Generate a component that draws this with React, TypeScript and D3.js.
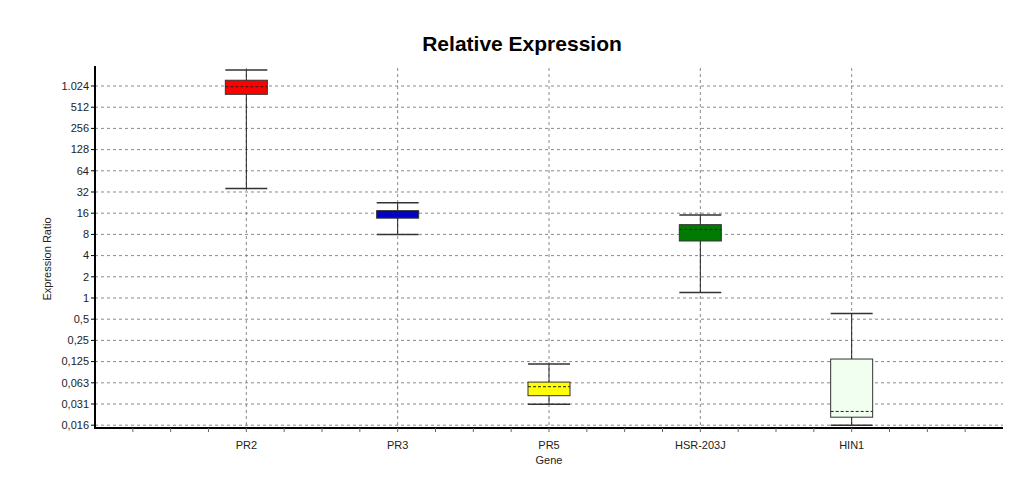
import React from "react";
import * as d3 from "d3";

const genes = ["PR2", "PR3", "PR5", "HSR-203J", "HIN1"];
const whiskerLow = [36, 8, 0.031, 1.2, 0.0156];
const boxLow = [780, 13.6, 0.041, 6.45, 0.0203];
const median = [1000, 16, 0.055, 9.4, 0.0245];
const boxHigh = [1236, 17.4, 0.064, 11, 0.136];
const whiskerHigh = [1728, 22.5, 0.116, 15.1, 0.6];
const boxColors = ["#ff0000", "#0000cc", "#ffff00", "#007a00", "#f0fff0"];

const tickValues = [1024, 512, 256, 128, 64, 32, 16, 8, 4, 2, 1, 0.5, 0.25, 0.125, 0.0625, 0.03125, 0.015625];
const tickLabels = ["1.024", "512", "256", "128", "64", "32", "16", "8", "4", "2", "1", "0,5", "0,25", "0,125", "0,063", "0,031", "0,016"];

const W = 1021;
const H = 484;
const left = 95;
const right = 1003;
const top = 66;
const bottom = 428;

export default function App() {
  const y = d3.scaleLog().base(2).domain([Math.pow(2, -6.132), Math.pow(2, 10.943)]).range([bottom, top]);
  const x = d3.scaleLinear().domain([0, genes.length + 1]).range([left, right]);
  const minorTicks = d3.range(1, (genes.length + 1) * 4).map((i) => i / 4);
  const font = "Arial, 'Liberation Sans', sans-serif";
  const bw = 42;

  return (
    <svg width={W} height={H} style={{ position: "absolute", left: 0, top: 0, background: "#fff" }} fontFamily={font}>
      <rect x={0} y={0} width={W} height={H} fill="#fff" />
      <text x={522} y={51} textAnchor="middle" fontSize={21} fontWeight="bold" fill="#000">
        Relative Expression
      </text>
      {/* horizontal grid */}
      {tickValues.map((v, i) => (
        <line key={"hg" + i} x1={left} x2={right} y1={y(v)} y2={y(v)} stroke="#8a8a8a" strokeWidth={1} strokeDasharray="3,3" />
      ))}
      {/* vertical grid */}
      {genes.map((g, i) => (
        <line key={"vg" + i} x1={x(i + 1)} x2={x(i + 1)} y1={top + 2} y2={bottom} stroke="#8a8a8a" strokeWidth={1} strokeDasharray="3,3" />
      ))}
      {/* boxes */}
      {genes.map((g, i) => {
        const cx = x(i + 1);
        return (
          <g key={"b" + i}>
            <line x1={cx} x2={cx} y1={y(whiskerHigh[i])} y2={y(whiskerLow[i])} stroke="#222" strokeWidth={1} />
            <line x1={cx - bw / 2} x2={cx + bw / 2} y1={y(whiskerHigh[i])} y2={y(whiskerHigh[i])} stroke="#333" strokeWidth={1.5} />
            <line x1={cx - bw / 2} x2={cx + bw / 2} y1={y(whiskerLow[i])} y2={y(whiskerLow[i])} stroke="#333" strokeWidth={1.5} />
            <rect
              x={cx - bw / 2}
              y={y(boxHigh[i])}
              width={bw}
              height={y(boxLow[i]) - y(boxHigh[i])}
              fill={boxColors[i]}
              stroke="#333"
              strokeWidth={1}
            />
            <line x1={cx - bw / 2} x2={cx + bw / 2} y1={y(median[i])} y2={y(median[i])} stroke="#222" strokeWidth={1} strokeDasharray="3,2" />
          </g>
        );
      })}
      {/* y axis */}
      <line x1={left} x2={left} y1={top} y2={bottom + 1} stroke="#000" strokeWidth={2} />
      {tickValues.map((v, i) => (
        <g key={"yt" + i}>
          <line x1={left - 4} x2={left} y1={y(v)} y2={y(v)} stroke="#000" strokeWidth={1} />
          <text x={left - 6} y={y(v)} dy="0.35em" textAnchor="end" fontSize={11} fill="#222">
            {tickLabels[i]}
          </text>
        </g>
      ))}
      <text transform={`translate(51,${(top + bottom) / 2 + 12}) rotate(-90)`} textAnchor="middle" fontSize={11} fill="#222">
        Expression Ratio
      </text>
      {/* x axis */}
      <line x1={left} x2={right} y1={bottom} y2={bottom} stroke="#000" strokeWidth={2} />
      {minorTicks.map((t, i) => (
        <line key={"xt" + i} x1={x(t)} x2={x(t)} y1={bottom} y2={bottom + 4} stroke="#666" strokeWidth={1} />
      ))}
      {genes.map((g, i) => (
        <text key={"xl" + i} x={x(i + 1)} y={449} textAnchor="middle" fontSize={11} fill="#222">
          {g}
        </text>
      ))}
      <text x={(left + right) / 2 + 0} y={464} textAnchor="middle" fontSize={11} fill="#222">
        Gene
      </text>
    </svg>
  );
}
